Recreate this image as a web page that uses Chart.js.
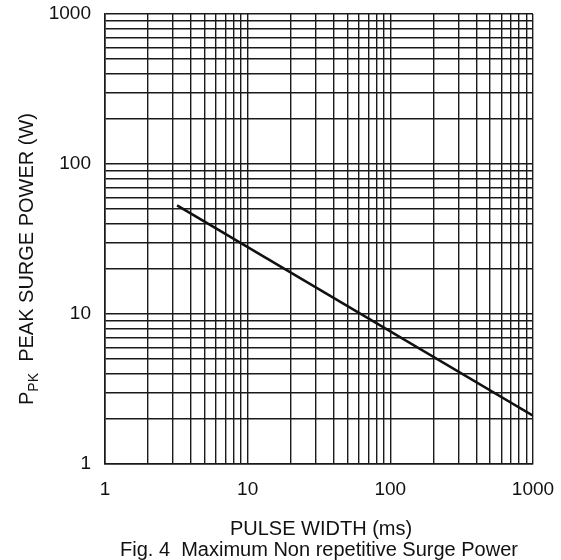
<!DOCTYPE html>
<html>
<head>
<meta charset="utf-8">
<script src="https://cdn.jsdelivr.net/npm/chart.js@4/dist/chart.umd.min.js"></script>
<style>
html,body{margin:0;padding:0;background:#fff;}
#c{display:block;}
</style>
</head>
<body>
<canvas id="c" width="561" height="560" style="width:561px;height:560px"></canvas>
<script>
// Data
const pulseWidth = [3.2, 1000];          // ms
const peakPower  = [53, 2.1];            // W

// Grid / tick values
const xGridTicks = [1,2,3,4,5,6,7,8,9,10,20,30,40,50,60,70,80,90,100,200,300,400,500,600,700,800,900,1000];
const yGridTicks = [1,2,3,4,5,6,7,8,9,10,20,30,40,50,60,70,80,90,100,200,300,400,500,600,700,800,900,1000];
const xTickLabels = ['1','10','100','1000'];
const yTickLabels = ['1','10','100','1000'];

const xTitle = 'PULSE WIDTH (ms)';
const yTitleMain = 'P';
const yTitleSub = 'PK';
const yTitleRest = '  PEAK SURGE POWER (W)';
const caption = 'Fig. 4  Maximum Non repetitive Surge Power';

const FONT = '"Liberation Sans", Arial, Helvetica, sans-serif';
const INK = '#111';

const textPlugin = {
  id: 'textPlugin',
  afterDraw(chart) {
    const ctx = chart.ctx;
    ctx.save();
    ctx.fillStyle = INK;
    // x title + caption
    ctx.textAlign = 'center';
    ctx.textBaseline = 'alphabetic';
    ctx.font = '20px ' + FONT;
    ctx.fillText(xTitle, 321, 535);
    ctx.fillText(caption, 319, 556);
    // y title with subscript
    ctx.translate(33, 405);
    ctx.rotate(-Math.PI / 2);
    ctx.textAlign = 'left';
    ctx.font = '20px ' + FONT;
    let x = 0;
    ctx.fillText(yTitleMain, x, 0);
    x += ctx.measureText(yTitleMain).width;
    ctx.font = '14px ' + FONT;
    ctx.fillText(yTitleSub, x, 5);
    x += ctx.measureText(yTitleSub).width;
    ctx.font = '20px ' + FONT;
    ctx.fillText(yTitleRest, x, 0);
    ctx.restore();
  }
};

function noOverflow(s) {
  s.paddingTop = 0; s.paddingBottom = 0; s.paddingLeft = 0; s.paddingRight = 0;
}

new Chart(document.getElementById('c'), {
  type: 'line',
  data: {
    datasets: [{
      data: pulseWidth.map((v, i) => ({x: v, y: peakPower[i]})),
      borderColor: '#111',
      borderWidth: 2.6,
      pointRadius: 0,
      fill: false,
      tension: 0
    }]
  },
  options: {
    responsive: false,
    animation: false,
    devicePixelRatio: 1,
    layout: {padding: {top: 14, right: 28, left: 0, bottom: 0}},
    plugins: {legend: {display: false}, tooltip: {enabled: false}, title: {display: false}},
    scales: {
      x: {
        type: 'logarithmic',
        min: 1, max: 1000,
        afterBuildTicks: (s) => { s.ticks = xGridTicks.map(v => ({value: v})); },
        afterFit: (s) => { s.height = 96; noOverflow(s); },
        ticks: {
          autoSkip: false, maxRotation: 0, padding: 14,
          color: INK, font: {family: FONT, size: 19},
          callback: (v) => xTickLabels.includes(String(v)) ? String(v) : ''
        },
        grid: {color: '#1a1a1a', lineWidth: 1.4, drawTicks: false},
        border: {color: '#1a1a1a', width: 1.6}
      },
      y: {
        type: 'logarithmic',
        min: 1, max: 1000,
        afterBuildTicks: (s) => { s.ticks = yGridTicks.map(v => ({value: v})); },
        afterFit: (s) => { s.width = 105; noOverflow(s); },
        ticks: {
          autoSkip: false, padding: 14,
          color: INK, font: {family: FONT, size: 19},
          callback: (v) => yTickLabels.includes(String(v)) ? String(v) : ''
        },
        grid: {color: '#1a1a1a', lineWidth: 1.4, drawTicks: false},
        border: {color: '#1a1a1a', width: 1.6}
      }
    }
  },
  plugins: [textPlugin]
});
</script>
</body>
</html>
